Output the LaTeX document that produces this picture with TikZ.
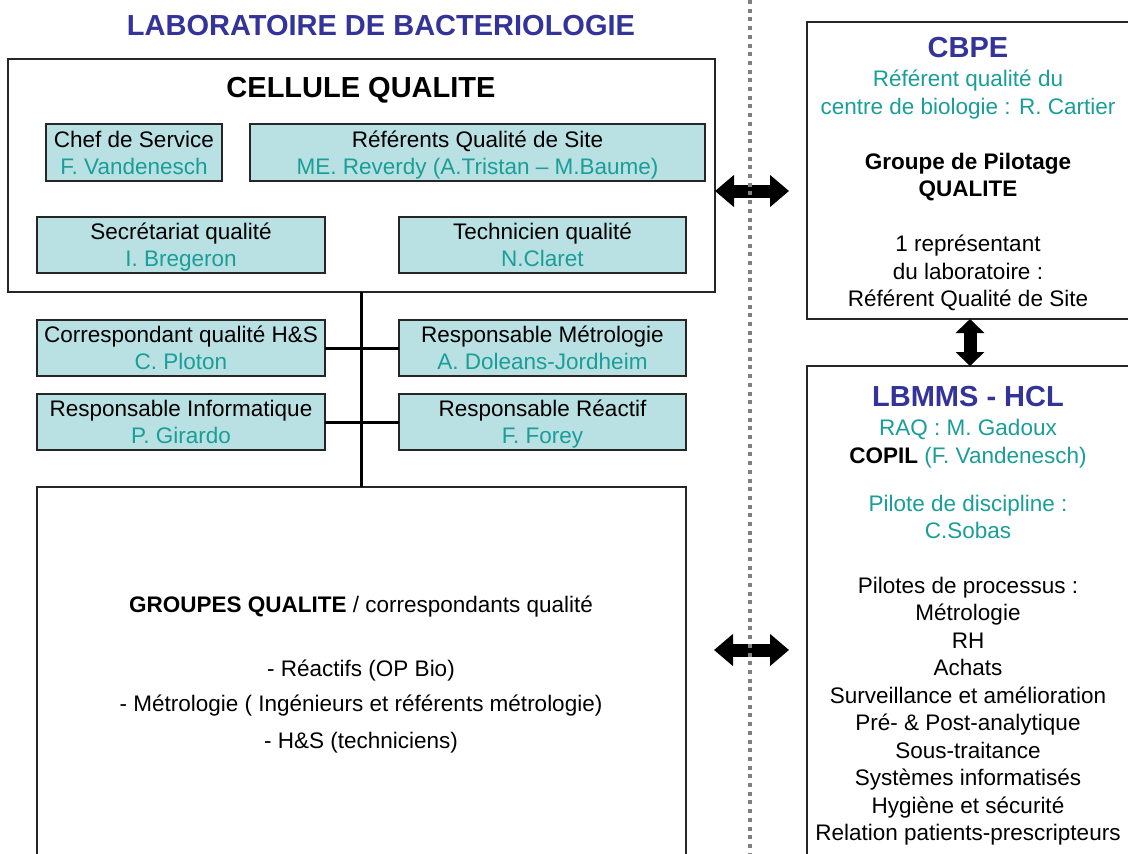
\documentclass[tikz,border=0pt]{standalone}
\usepackage{fontspec}
\setmainfont{Liberation Sans}
\usetikzlibrary{arrows.meta}
\definecolor{titleblue}{RGB}{51,51,153}
\definecolor{tealtxt}{RGB}{26,158,152}
\definecolor{cyanfill}{RGB}{185,224,226}
\newcommand{\bstrut}{\rule[-5pt]{0pt}{26pt}}
\begin{document}
\begin{tikzpicture}[x=1pt,y=-1pt,
  every node/.style={inner sep=0pt, outer sep=0pt},
  frame/.style={draw=black!85, line width=1.4pt, fill=white, anchor=north west},
  rolebox/.style={draw=black!85, line width=1.2pt, fill=cyanfill, anchor=north west, align=center, font=\fontsize{22.5pt}{27pt}\selectfont},
  txt/.style={anchor=base, font=\fontsize{22.5pt}{27pt}\selectfont},
  ttl/.style={anchor=base, font=\fontsize{29pt}{34pt}\selectfont\bfseries},
  link/.style={line width=3pt, black},
  bigarrow/.style={line width=13pt, {Triangle[width=31pt,length=19pt]}-{Triangle[width=31pt,length=19pt]}},
  vbigarrow/.style={line width=13pt, {Triangle[width=28pt,length=14pt]}-{Triangle[width=28pt,length=14pt]}},
  sepline/.style={draw=black!50, line width=4pt, dash pattern=on 4pt off 4.7pt}
]
\useasboundingbox (0,0) rectangle (1128,854);
\clip (0,0) rectangle (1128,854);
\fill[white] (0,0) rectangle (1128,854);

% title
\node[ttl, text=titleblue] (title) at (381,35.5) {LABORATOIRE DE BACTERIOLOGIE};

% cellule qualite
\node[frame, minimum width=707pt, minimum height=233pt] (cellule) at (8,59) {};
\node[ttl] (celltitle) at (361,97.5) {CELLULE QUALITE};

\node[rolebox, minimum width=176pt, minimum height=57pt] (chef) at (46,124)
  {\bstrut Chef de Service\\\textcolor{tealtxt}{F. Vandenesch}\bstrut};
\node[rolebox, minimum width=455pt, minimum height=57pt] (refsite) at (250,124)
  {\bstrut Référents Qualité de Site\\\textcolor{tealtxt}{ME. Reverdy (A.Tristan – M.Baume)}\bstrut};
\node[rolebox, minimum width=288pt, minimum height=56pt] (secr) at (37,217)
  {\bstrut Secrétariat qualité\\\textcolor{tealtxt}{I. Bregeron}\bstrut};
\node[rolebox, minimum width=287pt, minimum height=56pt] (tech) at (399,217)
  {\bstrut Technicien qualité\\\textcolor{tealtxt}{N.Claret}\bstrut};

% responsables
\node[rolebox, minimum width=288pt, minimum height=56pt] (corr) at (37,320)
  {\bstrut Correspondant qualité H\&S\\\textcolor{tealtxt}{C. Ploton}\bstrut};
\node[rolebox, minimum width=287pt, minimum height=56pt] (metro) at (399,320)
  {\bstrut Responsable Métrologie\\\textcolor{tealtxt}{A. Doleans-Jordheim}\bstrut};
\node[rolebox, minimum width=288pt, minimum height=56pt] (info) at (37,394)
  {\bstrut Responsable Informatique\\\textcolor{tealtxt}{P. Girardo}\bstrut};
\node[rolebox, minimum width=287pt, minimum height=56pt] (reac) at (399,394)
  {\bstrut Responsable Réactif\\\textcolor{tealtxt}{F. Forey}\bstrut};

% groupes qualite
\node[frame, minimum width=649pt, minimum height=420pt] (groupes) at (37,487) {};
\node[txt] (g1) at (361,612) {\textbf{GROUPES QUALITE} / correspondants qualité};
\node[txt] (g2) at (361,676) {- Réactifs (OP Bio)};
\node[txt] (g3) at (361,711) {- Métrologie ( Ingénieurs et référents métrologie)};
\node[txt] (g4) at (361,748) {- H\&S (techniciens)};

% connectors
\draw[link] (cellule.south) -- (groupes.north);
\draw[link] (corr.east) -- (metro.west);
\draw[link] (info.east) -- (reac.west);

% CBPE
\node[frame, minimum width=326pt, minimum height=297pt] (cbpe) at (807,22) {};
\node[ttl, text=titleblue] (cbpet) at (968,57.5) {CBPE};
\node[txt, text=tealtxt] (c1) at (968,86) {Référent qualité du};
\node[txt, text=tealtxt] (c2) at (968,114) {centre de biologie : R. Cartier};
\node[txt, font=\fontsize{22.5pt}{27pt}\selectfont\bfseries] (c3) at (968,169) {Groupe de Pilotage};
\node[txt, font=\fontsize{22.5pt}{27pt}\selectfont\bfseries] (c4) at (968,196) {QUALITE};
\node[txt] (c5) at (968,251) {1 représentant};
\node[txt] (c6) at (968,279) {du laboratoire :};
\node[txt] (c7) at (968,306) {Référent Qualité de Site};

% LBMMS
\node[frame, minimum width=326pt, minimum height=520pt] (lbmms) at (807,366) {};
\node[ttl, text=titleblue] (lbt) at (968,406.5) {LBMMS - HCL};
\node[txt, text=tealtxt] (l1) at (968,435) {RAQ : M. Gadoux};
\node[txt] (l2) at (968,463) {\textbf{COPIL} \textcolor{tealtxt}{(F. Vandenesch)}};
\node[txt, text=tealtxt] (l3) at (968,511) {Pilote de discipline :};
\node[txt, text=tealtxt] (l4) at (968,538) {C.Sobas};
\node[txt] (l5) at (968,593) {Pilotes de processus :};
\node[txt] (l6) at (968,620) {Métrologie};
\node[txt] (l7) at (968,648) {RH};
\node[txt] (l8) at (968,675) {Achats};
\node[txt] (l9) at (968,703) {Surveillance et amélioration};
\node[txt] (l10) at (968,730) {Pré- \& Post-analytique};
\node[txt] (l11) at (968,758) {Sous-traitance};
\node[txt] (l12) at (968,785) {Systèmes informatisés};
\node[txt] (l13) at (968,813) {Hygiène et sécurité};
\node[txt] (l14) at (968,840) {Relation patients-prescripteurs};

% block arrows
\coordinate (a1r) at (789,191);
\draw[bigarrow] (cellule.east |- a1r) -- (a1r);
\coordinate (a2l) at (714,650);
\coordinate (a2r) at (789,650);
\draw[bigarrow] (a2l) -- (a2r);
\draw[vbigarrow] (cbpe.south) -- (lbmms.north);

% dotted separator
\coordinate (septop) at (750,0);
\coordinate (sepbot) at (750,860);
\draw[sepline] (septop) -- (sepbot);
\end{tikzpicture}
\end{document}
